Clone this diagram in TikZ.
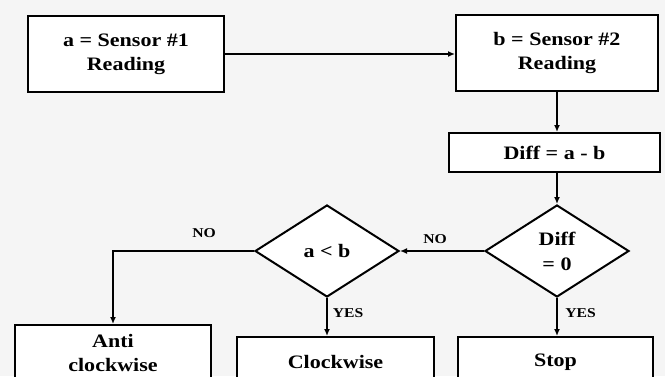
\documentclass[tikz,border=0pt]{standalone}
\usepackage{fontspec}
\setmainfont{Liberation Serif}[FakeStretch=1.16]
\usetikzlibrary{shapes.geometric,arrows.meta}
\begin{document}
\begin{tikzpicture}[x=1pt,y=-1pt,
  box/.style={draw=black,line width=2pt,fill=white,inner sep=0pt,align=center,
    font=\fontsize{19}{24}\selectfont\bfseries},
  dia/.style={draw=black,line width=2pt,fill=white,shape=diamond,inner sep=0pt,align=center,
    minimum width=144pt,minimum height=92pt,font=\fontsize{19}{25}\selectfont\bfseries},
  lbl/.style={inner sep=0pt,font=\fontsize{13.5}{15}\selectfont\bfseries},
  arr/.style={line width=1.6pt,-{Latex[length=7pt,width=6pt]}}]
\useasboundingbox (0,0) rectangle (665,376);
\clip (0,0) rectangle (665,376);
\fill[black!4] (0,0) rectangle (665,376);
\node[box,minimum width=196pt,minimum height=76pt] (A) at (126,54) {a = Sensor \#1\\Reading};
\node[box,minimum width=202pt,minimum height=76pt] (B) at (557,53) {b = Sensor \#2\\Reading};
\node[box,minimum width=211pt,minimum height=39pt] (D) at (554.5,152.5) {Diff = a - b};
\node[dia] (Z) at (557,251) {Diff\\= 0};
\node[dia] (C) at (327,251) {a \textless\ b};
\node[box,minimum width=196pt,minimum height=56pt] (AC) at (113,353) {Anti\\clockwise};
\node[box,minimum width=197pt,minimum height=50pt] (CW) at (335.5,362) {Clockwise};
\node[box,minimum width=195pt,minimum height=50pt] (S) at (555.5,362) {Stop};
\draw[arr] (A.east) -- (A.east -| B.west);
\draw[arr] (B.south -| Z.north) -- (D.north -| Z.north);
\draw[arr] (D.south -| Z.north) -- (Z.north);
\draw[arr] (Z.west) -- (C.east);
\draw[arr] (C.west) -| (AC.north);
\draw[arr] (C.south) -- (C.south |- CW.north);
\draw[arr] (Z.south) -- (Z.south |- S.north);
\node[lbl] (n1) at (204,233) {NO};
\node[lbl] (n2) at (435,239) {NO};
\node[lbl] (y1) at (348,313) {YES};
\node[lbl] (y2) at (580.5,313) {YES};
\end{tikzpicture}
\end{document}
